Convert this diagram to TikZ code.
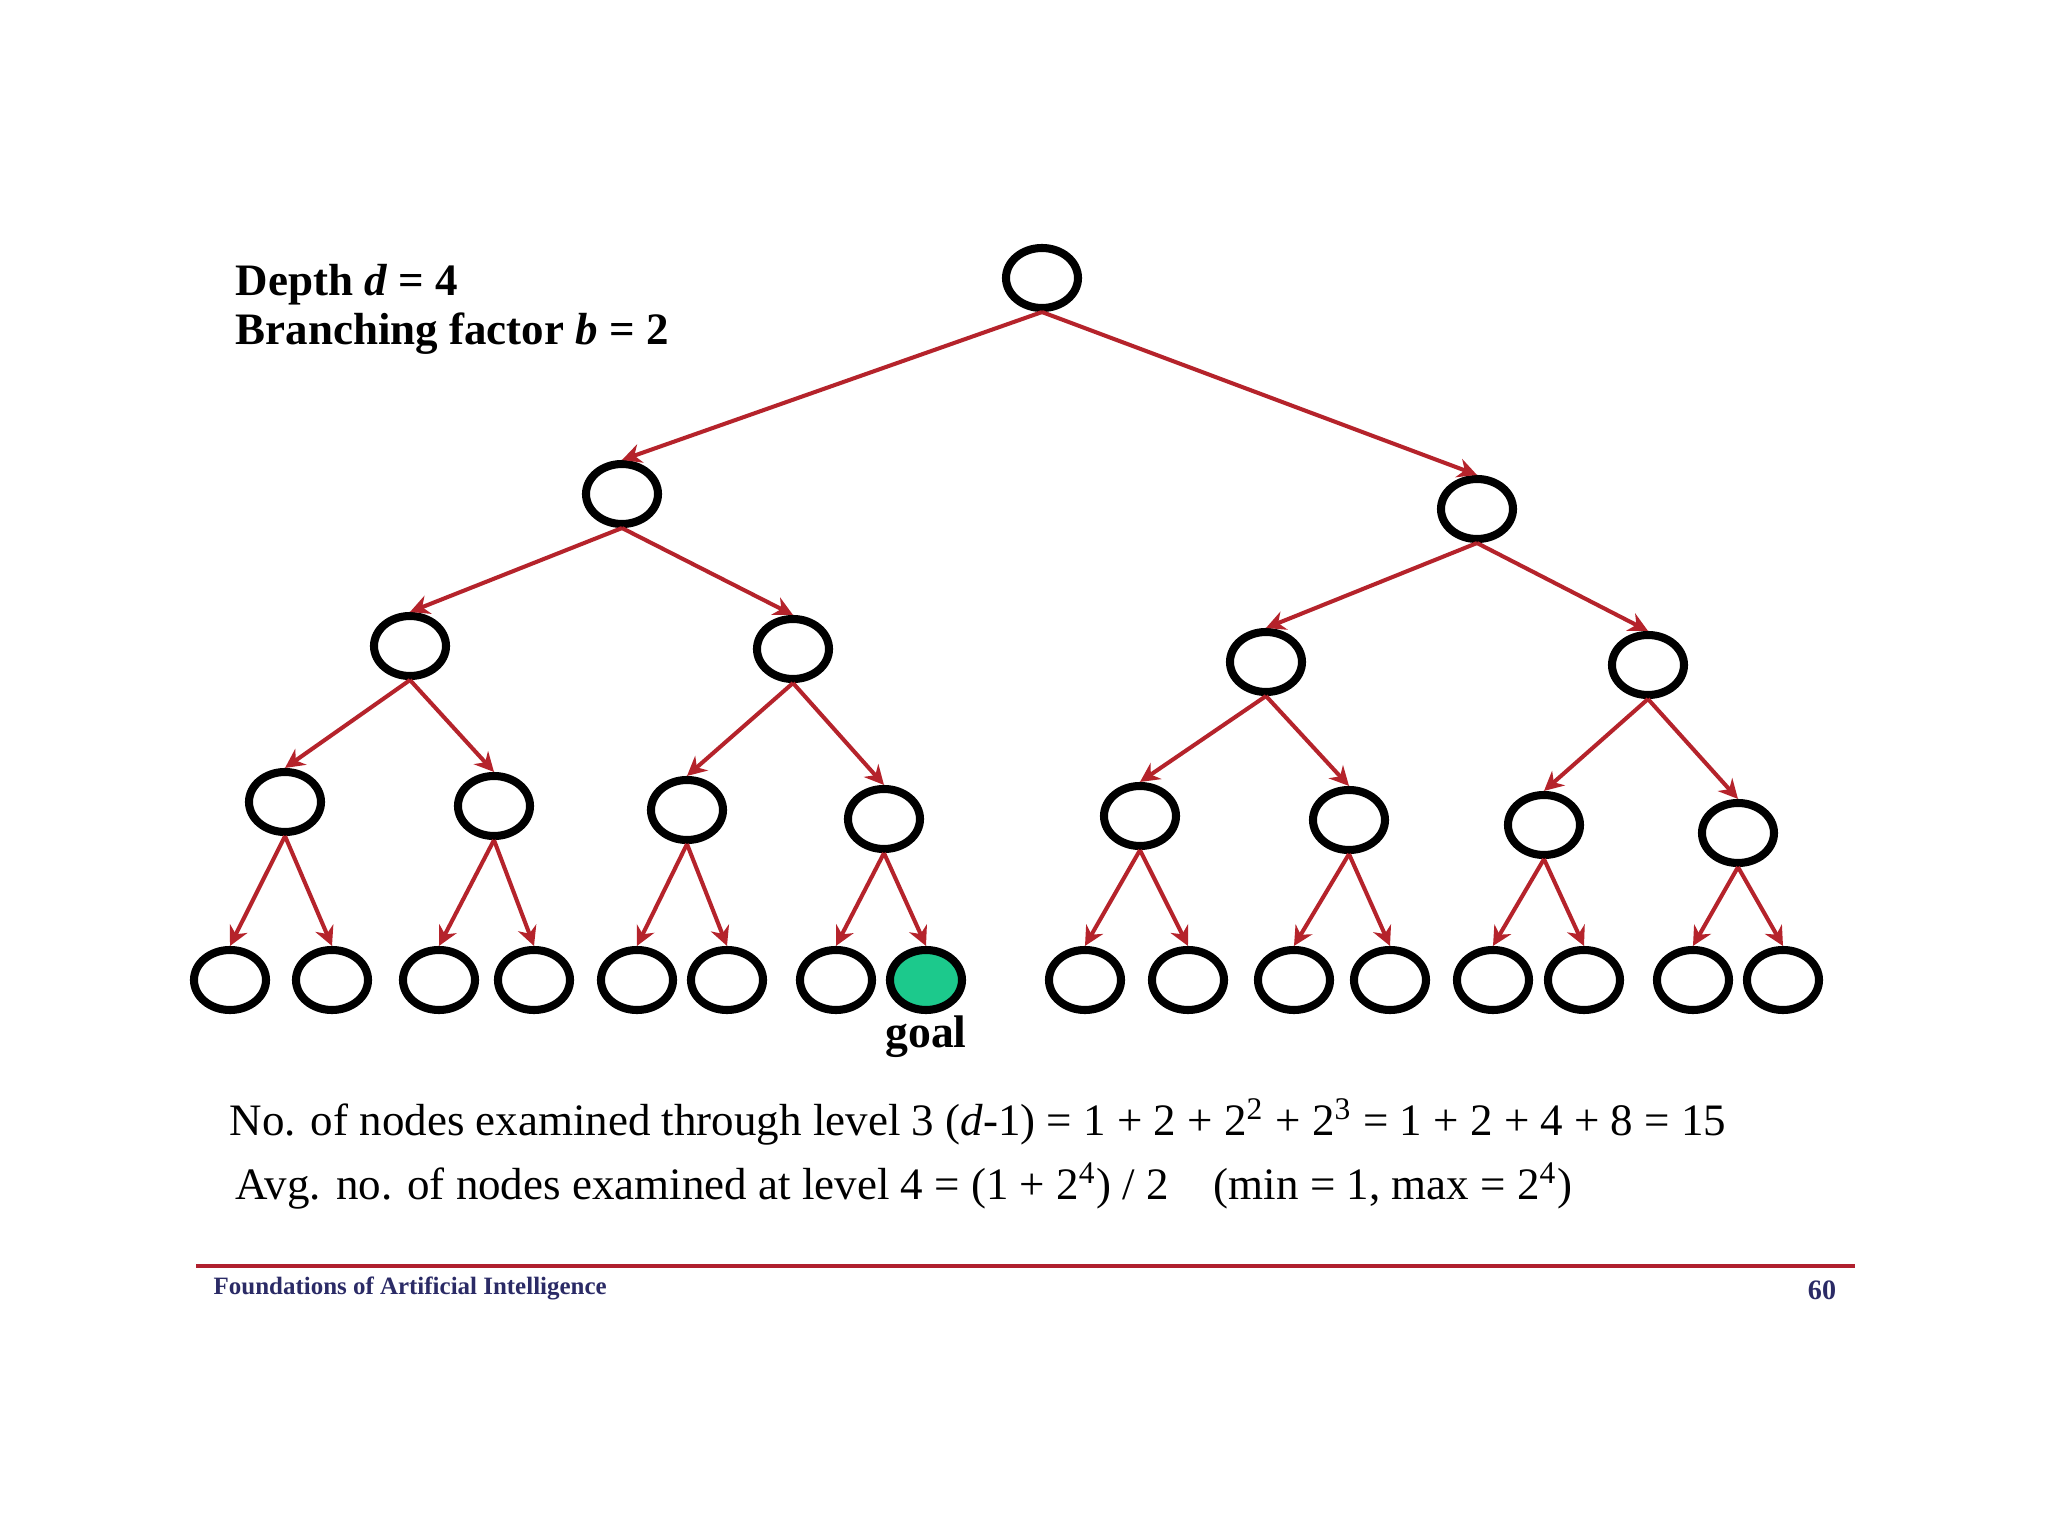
\documentclass[tikz,border=0pt]{standalone}
\usepackage{fontspec}
\setmainfont{Liberation Serif}
\usetikzlibrary{positioning,arrows.meta,shapes.geometric}
\definecolor{edgeRed}{HTML}{B5232B}
\definecolor{goalGreen}{HTML}{1CC98C}
\definecolor{footerNavy}{HTML}{2B2B66}
\definecolor{ruleRed}{HTML}{B0202E}

\begin{document}
\begin{tikzpicture}[
    treeNode/.style={ellipse, draw=black, line width=2.3pt, fill=white, minimum width=0.72cm, minimum height=0.60cm, inner sep=0pt},
    goalNode/.style={treeNode, fill=goalGreen},
    searchEdge/.style={draw=edgeRed, line width=1.15pt, -{Stealth[length=5.5pt,width=5.5pt]}},
    headText/.style={anchor=base west, inner sep=0pt, font=\fontsize{12.8}{14}\selectfont\bfseries},
    sumText/.style={anchor=base west, inner sep=0pt, font=\fontsize{12.8}{14}\selectfont},
    footText/.style={anchor=base, inner sep=0pt, text=footerNavy, font=\fontsize{7.1}{8}\selectfont\bfseries}
]
    \fill[white] (0,0) rectangle (20.48,-15.36);
    \useasboundingbox (0,0) rectangle (20.48,-15.36);

    % depth and branching factor
    \node[headText] (depthLabel) at (2.35,-2.96) {Depth \textit{d} = 4};
    \node[headText] (branchLabel) at (2.35,-3.45) {Branching factor \textit{b} = 2};

    % level 0 -- 2
    \node[treeNode] (n1) at (10.42,-2.78) {};
    \node[treeNode] (n2) at (6.22,-4.94) {};
    \node[treeNode] (n3) at (14.77,-5.09) {};
    \node[treeNode] (n4) at (4.10,-6.46) {};
    \node[treeNode] (n5) at (7.93,-6.49) {};
    \node[treeNode] (n6) at (12.66,-6.62) {};
    \node[treeNode] (n7) at (16.48,-6.65) {};

    % level 3
    \node[treeNode] (n8) at (2.85,-8.02) {};
    \node[treeNode] (n9) at (4.94,-8.06) {};
    \node[treeNode] (n10) at (6.87,-8.10) {};
    \node[treeNode] (n11) at (8.84,-8.19) {};
    \node[treeNode] (n12) at (11.40,-8.16) {};
    \node[treeNode] (n13) at (13.49,-8.20) {};
    \node[treeNode] (n14) at (15.44,-8.25) {};
    \node[treeNode] (n15) at (17.38,-8.33) {};

    % level 4
    \node[treeNode] (n16) at (2.30,-9.80) {};
    \node[treeNode] (n17) at (3.32,-9.80) {};
    \node[treeNode] (n18) at (4.39,-9.80) {};
    \node[treeNode] (n19) at (5.34,-9.80) {};
    \node[treeNode] (n20) at (6.37,-9.80) {};
    \node[treeNode] (n21) at (7.27,-9.80) {};
    \node[treeNode] (n22) at (8.36,-9.80) {};
    \node[goalNode] (n23) at (9.26,-9.80) {};
    \node[treeNode] (n24) at (10.85,-9.80) {};
    \node[treeNode] (n25) at (11.88,-9.80) {};
    \node[treeNode] (n26) at (12.94,-9.80) {};
    \node[treeNode] (n27) at (13.90,-9.80) {};
    \node[treeNode] (n28) at (14.93,-9.80) {};
    \node[treeNode] (n29) at (15.84,-9.80) {};
    \node[treeNode] (n30) at (16.93,-9.80) {};
    \node[treeNode] (n31) at (17.83,-9.80) {};

    \node[font=\fontsize{13}{14}\selectfont\bfseries, anchor=base] (goalLabel) at (9.26,-10.48) {goal};

    % edges
    \draw[searchEdge] (n1.south) -- (n2.north);
    \draw[searchEdge] (n1.south) -- (n3.north);
    \draw[searchEdge] (n2.south) -- (n4.north);
    \draw[searchEdge] (n2.south) -- (n5.north);
    \draw[searchEdge] (n3.south) -- (n6.north);
    \draw[searchEdge] (n3.south) -- (n7.north);
    \draw[searchEdge] (n4.south) -- (n8.north);
    \draw[searchEdge] (n4.south) -- (n9.north);
    \draw[searchEdge] (n5.south) -- (n10.north);
    \draw[searchEdge] (n5.south) -- (n11.north);
    \draw[searchEdge] (n6.south) -- (n12.north);
    \draw[searchEdge] (n6.south) -- (n13.north);
    \draw[searchEdge] (n7.south) -- (n14.north);
    \draw[searchEdge] (n7.south) -- (n15.north);
    \draw[searchEdge] (n8.south) -- (n16.north);
    \draw[searchEdge] (n8.south) -- (n17.north);
    \draw[searchEdge] (n9.south) -- (n18.north);
    \draw[searchEdge] (n9.south) -- (n19.north);
    \draw[searchEdge] (n10.south) -- (n20.north);
    \draw[searchEdge] (n10.south) -- (n21.north);
    \draw[searchEdge] (n11.south) -- (n22.north);
    \draw[searchEdge] (n11.south) -- (n23.north);
    \draw[searchEdge] (n12.south) -- (n24.north);
    \draw[searchEdge] (n12.south) -- (n25.north);
    \draw[searchEdge] (n13.south) -- (n26.north);
    \draw[searchEdge] (n13.south) -- (n27.north);
    \draw[searchEdge] (n14.south) -- (n28.north);
    \draw[searchEdge] (n14.south) -- (n29.north);
    \draw[searchEdge] (n15.south) -- (n30.north);
    \draw[searchEdge] (n15.south) -- (n31.north);

    % node counts
    \node[sumText] (levelSum) at (2.29,-11.35) {No. of nodes examined through level 3 (\textit{d}-1) = 1 + 2 + 2\textsuperscript{2} + 2\textsuperscript{3} = 1 + 2 + 4 + 8 = 15};
    \node[sumText] (avgSum) at (2.35,-11.99) {Avg. no. of nodes examined at level 4 = (1 + 2\textsuperscript{4}) / 2\quad(min = 1, max = 2\textsuperscript{4})};

    % footer
    \draw[ruleRed, line width=1.2pt] (1.96,-12.66) -- (18.55,-12.66);
    \node[footText, anchor=base west] (courseName) at (2.13,-12.94) {Foundations of Artificial Intelligence};
    \node[footText, font=\fontsize{8}{9}\selectfont\bfseries] (pageNum) at (18.22,-12.99) {60};
\end{tikzpicture}
\end{document}
